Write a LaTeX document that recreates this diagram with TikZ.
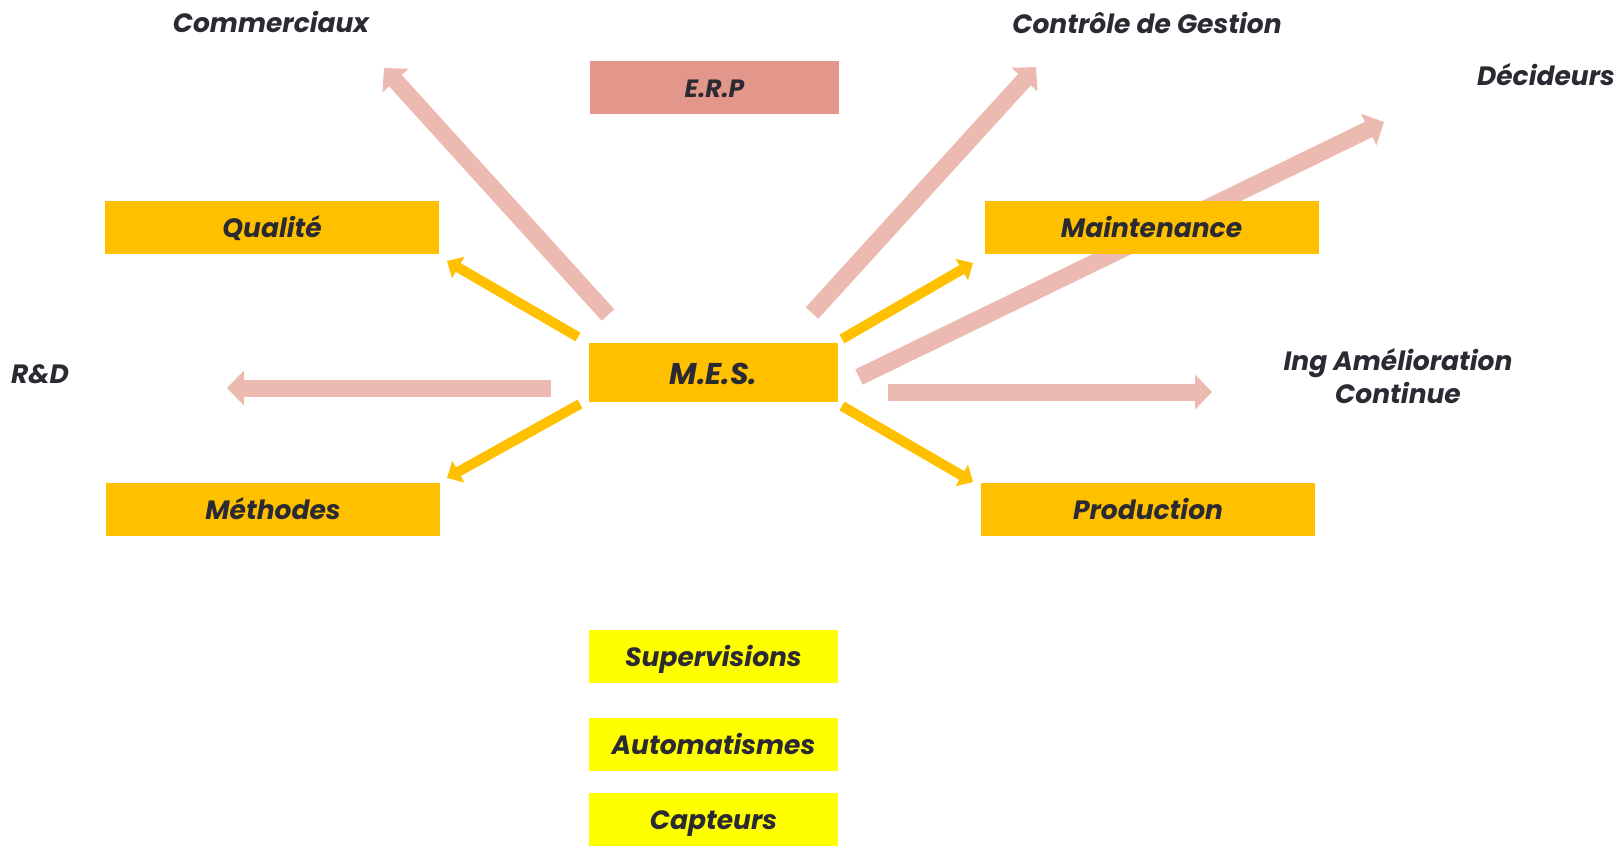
\documentclass[tikz,border=0pt]{standalone}
\usepackage{fontspec}
\setmainfont{Poppins}
\usetikzlibrary{arrows.meta, positioning, backgrounds}

\definecolor{mesjaune}{HTML}{FFC000}
\definecolor{vifjaune}{HTML}{FFFF00}
\definecolor{erpsaumon}{HTML}{E3978A}
\definecolor{flecherose}{HTML}{EDBAB1}
\definecolor{textesombre}{HTML}{2B2A33}

\begin{document}
\begin{tikzpicture}[x=1pt, y=-1pt, font=\fontsize{26.5}{33}\selectfont\bfseries\itshape, text=textesombre,
    etiq/.style={inner sep=0pt, text height=26pt, text depth=6pt},
    boite/.style={etiq, rectangle, minimum height=53pt},
    rose/.style={draw=flecherose, line width=17pt, -{Triangle[width=34pt, length=17pt]}},
    jaune/.style={draw=mesjaune, line width=10pt, -{Triangle[width=24pt, length=13pt]}}]
    \useasboundingbox (0,0) rectangle (1624,849);
    % 中心
    \node[boite, fill=mesjaune, minimum width=249pt, minimum height=59pt, text height=29pt, font=\fontsize{30}{36}\selectfont\bfseries\itshape] (mes) at (713.5,372.5) {M.E.S.};
    \node[boite, fill=erpsaumon, minimum width=249pt, font=\fontsize{25}{30}\selectfont\bfseries\itshape] (erp) at (714.5,87.5) {E.R.P};
    % 四个服务
    \foreach \nom/\txt/\x/\y in {qualite/Qualité/272/227, maintenance/Maintenance/1151.5/227,
        methodes/Méthodes/273/509.5, production/Production/1148/509.5} {
        \node[boite, fill=mesjaune, minimum width=334pt] (\nom) at (\x,\y) {\txt};
    }
    % 底层
    \foreach \nom/\txt/\y in {supervisions/Supervisions/656, automatismes/Automatismes/744, capteurs/Capteurs/819} {
        \node[boite, fill=vifjaune, minimum width=249pt] (\nom) at (713.5,\y) {\txt};
    }
    % 外部
    \node[etiq] (commerciaux) at (271,22) {Commerciaux};
    \node[etiq] (controle) at (1147,23) {Contrôle de Gestion};
    \node[etiq] (decideurs) at (1546,75) {Décideurs};
    \node[etiq] (rd) at (40,373) {R\&D};
    \node[align=center] (ing) at (1398,376) {Ing Amélioration\\Continue};
    % 箭头端点
    \coordinate (d-com) at (608,315);   \coordinate (a-com) at (384,68);
    \coordinate (d-ctrl) at (812,313);  \coordinate (a-ctrl) at (1036,67);
    \coordinate (d-dec) at (859,377);   \coordinate (a-dec) at (1384,122);
    \coordinate (d-ing) at (888,392);   \coordinate (a-ing) at (1212,392);
    \coordinate (d-rd) at (551,388);    \coordinate (a-rd) at (227,388);
    \coordinate (d-qual) at (578,337);  \coordinate (a-qual) at (447,261);
    \coordinate (d-meth) at (580,404);  \coordinate (a-meth) at (447,478);
    \coordinate (d-maint) at (842,339); \coordinate (a-maint) at (973,263);
    \coordinate (d-prod) at (842,406);  \coordinate (a-prod) at (973,482);
    % 粉色箭头在方框下面
    \begin{scope}[on background layer]
        \foreach \k in {com, ctrl, dec, ing, rd} {
            \draw[rose] (d-\k) -- (a-\k);
        }
    \end{scope}
    % 黄色箭头
    \foreach \k in {qual, meth, maint, prod} {
        \draw[jaune] (d-\k) -- (a-\k);
    }
\end{tikzpicture}
\end{document}
